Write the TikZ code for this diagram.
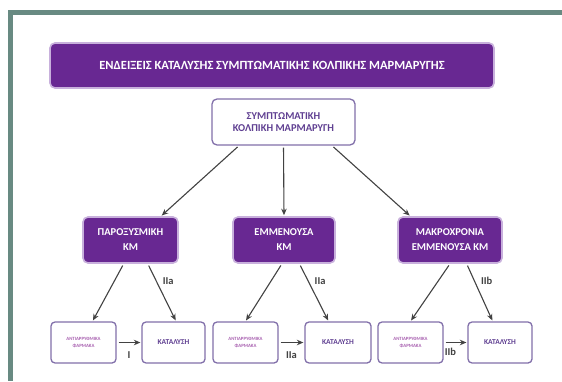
\documentclass[tikz,border=0pt]{standalone}
\usepackage{fontspec}
\setmainfont{Carlito}
\usetikzlibrary{arrows.meta}
\definecolor{kmframe}{RGB}{104,138,130}
\definecolor{kmpurple}{RGB}{104,40,146}
\definecolor{kmedge}{RGB}{200,176,220}
\definecolor{kmline}{RGB}{130,112,170}
\definecolor{kmtext}{RGB}{96,64,146}
\definecolor{kmpink}{RGB}{168,96,176}
\definecolor{kmarrow}{RGB}{66,66,66}
\tikzset{
  kmhead/.style={draw=kmedge, line width=1.6pt, rounded corners=5pt, fill=kmpurple, text=white, align=center, inner sep=0pt},
  kmroot/.style={draw=kmline, line width=1.3pt, rounded corners=5pt, fill=white, text=kmtext, align=center, inner sep=0pt, font=\bfseries\fontsize{10.5}{11.5}\selectfont},
  kmcut/.style={kmroot, minimum height=41pt, rounded corners=4pt, font=\bfseries\fontsize{7.5}{8}\selectfont},
  kmdrug/.style={kmcut, text=kmpink, font=\bfseries\fontsize{4.8}{7.5}\selectfont},
  kmarr/.style={draw=kmarrow, line width=1.1pt, -{Stealth[length=6.5pt,width=5.5pt]}, shorten >=1pt, shorten <=2pt},
  kmlbl/.style={text=kmarrow, font=\bfseries\fontsize{10.5}{11}\selectfont, inner sep=1pt}
}
\begin{document}
\begin{tikzpicture}[x=1pt, y=1pt]
    \useasboundingbox (0,0) rectangle (562,381);
    \fill[white] (0,0) rectangle (562,381);
    % frame
    \fill[kmframe] (8,366) rectangle (562,371);
    \fill[kmframe] (8,0) rectangle (13,371);
    % title
    \node[kmhead, minimum width=444pt, minimum height=45pt, font=\bfseries\fontsize{12.5}{14}\selectfont] (title) at (272,315.5) {ΕΝΔΕΙΞΕΙΣ ΚΑΤΑΛΥΣΗΣ ΣΥΜΠΤΩΜΑΤΙΚΗΣ ΚΟΛΠΙΚΗΣ ΜΑΡΜΑΡΥΓΗΣ};
    \node[kmroot, minimum width=143pt, minimum height=46pt] (root) at (283.5,259) {ΣΥΜΠΤΩΜΑΤΙΚΗ\\ΚΟΛΠΙΚΗ ΜΑΡΜΑΡΥΓΗ};
    % types of AF
    \node[kmhead, minimum width=95pt, minimum height=46pt, font=\bfseries\fontsize{10.5}{15}\selectfont] (m1) at (130.5,141) {ΠΑΡΟΞΥΣΜΙΚΗ\\ΚΜ};
    \node[kmhead, minimum width=102pt, minimum height=46pt, font=\bfseries\fontsize{10.5}{15}\selectfont] (m2) at (284,141) {ΕΜΜΕΝΟΥΣΑ\\ΚΜ};
    \node[kmhead, minimum width=104pt, minimum height=46pt, font=\bfseries\fontsize{10.5}{15}\selectfont] (m3) at (450,141) {ΜΑΚΡΟΧΡΟΝΙΑ\\ΕΜΜΕΝΟΥΣΑ ΚΜ};
    % bottom row
    \node[kmdrug, minimum width=65pt] (a1) at (83.5,38.5) {ΑΝΤΙΑΡΡΥΘΜΙΚΑ\\ΦΑΡΜΑΚΑ};
    \node[kmcut, minimum width=63pt] (k1) at (173.5,38.5) {ΚΑΤΑΛΥΣΗ};
    \node[kmdrug, minimum width=65pt] (a2) at (245.5,38.5) {ΑΝΤΙΑΡΡΥΘΜΙΚΑ\\ΦΑΡΜΑΚΑ};
    \node[kmcut, minimum width=66pt] (k2) at (338,38.5) {ΚΑΤΑΛΥΣΗ};
    \node[kmdrug, minimum width=65pt] (a3) at (410.5,38.5) {ΑΝΤΙΑΡΡΥΘΜΙΚΑ\\ΦΑΡΜΑΚΑ};
    \node[kmcut, minimum width=64pt] (k3) at (500,38.5) {ΚΑΤΑΛΥΣΗ};
    % arrows
    \draw[kmarr] (root.208) -- (m1.38);
    \draw[kmarr] (root.south) -- (m2.north);
    \draw[kmarr] (root.334) -- (m3.149);
    \draw[kmarr] (m1.254) -- (a1.67);
    \draw[kmarr] (m1.306) -- node[kmlbl, pos=0.3, right=5pt] {IIa} (k1.83);
    \draw[kmarr] (m2.265) -- (a2.north);
    \draw[kmarr] (m2.303) -- node[kmlbl, pos=0.3, right=5pt] {IIa} (k2.114);
    \draw[kmarr] (m3.south) -- (a3.north);
    \draw[kmarr] (m3.305) -- node[kmlbl, pos=0.3, right=5pt] {IIb} (k3.109);
    \draw[kmarr] (a1.east) -- node[kmlbl, below=8pt] {I} (k1.west);
    \draw[kmarr] (a2.east) -- node[kmlbl, below=8pt] {IIa} (k2.west);
    \draw[kmarr] (a3.east) -- node[kmlbl, below=4pt, xshift=-5pt] {IIb} (k3.west);
\end{tikzpicture}
\end{document}
